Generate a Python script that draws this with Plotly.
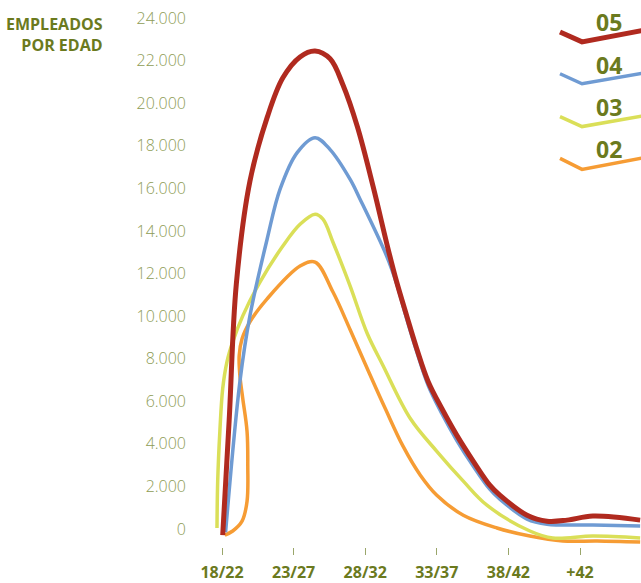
import plotly.graph_objects as go

# Category positions: 0 = 18/22, 1 = 23/27, ... 5 = +42
tick_pos = [0, 1, 2, 3, 4, 5]
tick_labels = ["18/22", "23/27", "28/32", "33/37", "38/42", "+42"]
y_ticks = list(range(0, 24001, 2000))

# Curves (x in category units, y = employees)
x_05 = [0.01, 0.10, 0.20, 0.39, 0.63, 0.85, 1.09, 1.30, 1.51, 1.69, 1.89, 2.11, 2.32, 2.44, 2.58, 2.72, 2.88, 3.07, 3.28, 3.51, 3.74, 3.88, 4.26, 4.54, 4.82, 5.18, 5.84]
y_05 = [-280, 5100, 11510, 16330, 19320, 21190, 22170, 22450, 22080, 20850, 18900, 16090, 13150, 11600, 10010, 8470, 6920, 5660, 4400, 3180, 2060, 1590, 650, 370, 420, 610, 420]

x_04 = [0.05, 0.25, 0.39, 0.63, 0.81, 1.05, 1.30, 1.51, 1.79, 1.93, 2.30, 2.44, 2.58, 2.72, 2.88, 3.07, 3.28, 3.51, 3.74, 3.88, 4.26, 4.54, 5.18, 5.84]
y_04 = [-150, 6920, 10010, 13610, 15950, 17680, 18380, 17820, 16420, 15480, 12820, 11510, 9870, 8330, 6740, 5430, 4160, 2950, 1870, 1400, 470, 230, 190, 140]

x_03 = [-0.07, -0.06, -0.03, 0.01, 0.07, 0.15, 0.29, 0.53, 0.85, 1.09, 1.30, 1.41, 1.55, 1.79, 2.03, 2.25, 2.63, 3.00, 3.37, 3.70, 4.30, 4.62, 5.18, 5.84]
y_03 = [50, 2250, 4580, 6600, 7860, 8790, 10010, 11600, 13290, 14310, 14780, 14550, 13470, 11410, 9170, 7670, 5190, 3650, 2250, 1120, -90, -420, -330, -420]

x_02 = [0.04, 0.15, 0.28, 0.35, 0.36, 0.35, 0.29, 0.25, 0.24, 0.28, 0.39, 0.63, 1.09, 1.30, 1.55, 1.79, 2.03, 2.28, 2.53, 2.77, 3.00, 3.37, 3.84, 4.30, 4.76, 5.24, 5.84]
y_02 = [-280, -90, 370, 1310, 2990, 4580, 6130, 7200, 8140, 8940, 9730, 10810, 12350, 12540, 11130, 9360, 7530, 5660, 3880, 2530, 1590, 650, 50, -330, -560, -560, -610]

series = [
    ("05", x_05, y_05, "#b02a1f", 5),
    ("04", x_04, y_04, "#6f9bd3", 3.5),
    ("03", x_03, y_03, "#dadf58", 3.5),
    ("02", x_02, y_02, "#f69c34", 3.5),
]

W, H = 641, 583
L, R, T, B = 190, 0, 10, 34
plot_w = W - L - R
plot_h = H - T - B
# pixel calibration: x=0 at px 222, 71.6 px per category; y=0 at px 531, 21.375 px per 1000
x_range = [(L - 222) / 71.6, (W - R - 222) / 71.6]
y_range = [-(H - B - 531) / 21.375 * 1000, (531 - T) / 21.375 * 1000]

fig = go.Figure()
for name, xs, ys, col, w in series[::-1]:
    fig.add_trace(go.Scatter(x=xs, y=ys, mode="lines", name=name,
                             line=dict(color=col, width=w, shape="spline", smoothing=1.0),
                             hoverinfo="skip", cliponaxis=True))

olive = "#6b7a1e"
light_olive = "#8e9c55"

def px_x(p):
    return (p - L) / plot_w

def px_y(p):
    return (H - B - p) / plot_h

shapes = []
annotations = []
legend_rows = [("05", 22, 32, 42, 31), ("04", 65, 74, 84, 74), ("03", 107, 117, 127, 117), ("02", 150, 159, 170, 159)]
for (name, xs, ys, col, w), (lab, ty, y1, y2, y3) in zip(series, legend_rows):
    path = "M {:.4f},{:.4f} L {:.4f},{:.4f} L {:.4f},{:.4f}".format(
        px_x(560), px_y(y1), px_x(582), px_y(y2), px_x(645), px_y(y3 - 1))
    shapes.append(dict(type="path", path=path, xref="paper", yref="paper",
                       line=dict(color=col, width=w)))
    annotations.append(dict(text="<b>%s</b>" % lab, x=px_x(609), y=px_y(ty), xref="paper", yref="paper",
                            showarrow=False, xanchor="center", yanchor="middle",
                            font=dict(family="Open Sans", size=23, color=olive)))

annotations.append(dict(text="<b>EMPLEADOS</b><br><b>POR EDAD</b>",
                        x=px_x(105), y=px_y(35),
                        xref="paper", yref="paper", showarrow=False, xanchor="right", yanchor="middle",
                        align="right", font=dict(family="Open Sans", size=16, color=olive)))

fig.update_layout(
    width=W, height=H,
    margin=dict(l=L, r=R, t=T, b=B, pad=0),
    paper_bgcolor="white", plot_bgcolor="white",
    showlegend=False,
    separators=",.",
    shapes=shapes,
    annotations=annotations,
    xaxis=dict(range=x_range, tickvals=tick_pos, ticktext=tick_labels,
               showgrid=False, zeroline=False, showline=False,
               ticks="outside", ticklen=7, tickwidth=1, tickcolor="#9aa66a",
               tickfont=dict(family="Open Sans", size=16, color=olive, weight="bold"),
               ticklabelstandoff=4),
    yaxis=dict(range=y_range, tickvals=y_ticks, tickformat=",d",
               showgrid=False, zeroline=False, showline=False, ticks="",
               tickfont=dict(family="Open Sans", size=16, color=light_olive, weight=300),
               ticklabelstandoff=3),
)

fig.write_html("out.html")
